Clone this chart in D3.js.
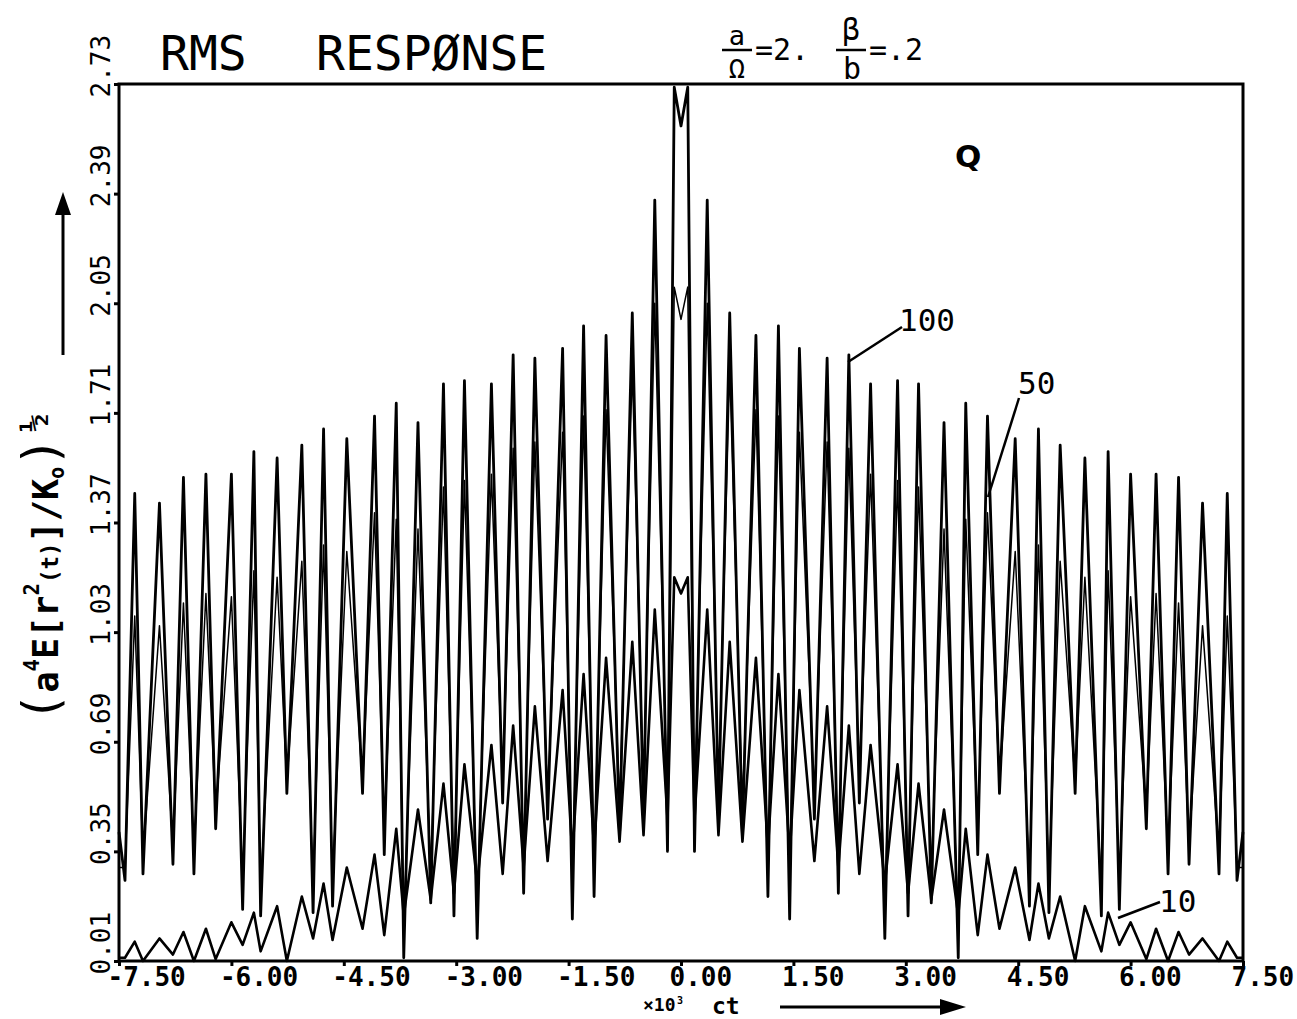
<!DOCTYPE html>
<html lang="en">
<head>
    <meta charset="UTF-8">
    <title>RMS response</title>
    <script src="https://d3js.org/d3.v7.min.js"></script>
    <style>
        body { margin: 0; background: #fff; }
        svg { display: block; }
        text { font-family: 'DejaVu Sans Mono', monospace; fill: #000; }
        .xaxis text { font-size: 26px; font-weight: bold; }
        .yaxis text { font-size: 26px; }
        .tick line { stroke: #000; stroke-width: 3; }
    </style>
</head>
<body>
<script>

    const width  = 1297;
    const height = 1019;

    // ct (x10^3) grid: peaks and troughs of the plotted curves
    const ct = [
        -7.50, -7.42, -7.29, -7.18, -6.96, -6.78, -6.64, -6.50, -6.34, -6.21,
        -6.00, -5.85, -5.70, -5.61, -5.39, -5.26, -5.06, -4.91, -4.77, -4.65,
        -4.46, -4.25, -4.09, -3.96, -3.80, -3.70, -3.51, -3.34, -3.17, -3.03,
        -2.89, -2.72, -2.53, -2.38, -2.24, -2.10, -1.95, -1.78, -1.58, -1.45,
        -1.30, -1.16, -1.00, -0.82, -0.65, -0.50, -0.35, -0.18, -0.09,
        0.00,
        0.09, 0.18, 0.35, 0.50, 0.65, 0.82, 1.00, 1.16, 1.30, 1.45,
        1.58, 1.78, 1.95, 2.10, 2.24, 2.38, 2.53, 2.72, 2.89, 3.03,
        3.17, 3.34, 3.51, 3.70, 3.80, 3.96, 4.09, 4.25, 4.46, 4.65,
        4.77, 4.91, 5.06, 5.26, 5.39, 5.61, 5.70, 5.85, 6.00, 6.21,
        6.34, 6.50, 6.64, 6.78, 6.96, 7.18, 7.29, 7.42, 7.50
    ];

    const rms100 = [
        0.41, 0.26, 1.46, 0.28, 1.43, 0.31, 1.51, 0.28, 1.52, 0.42,
        1.52, 0.17, 1.59, 0.15, 1.57, 0.53, 1.61, 0.16, 1.66, 0.18,
        1.63, 0.53, 1.70, 0.34, 1.74, 0.02, 1.68, 0.19, 1.80, 0.15,
        1.81, 0.08, 1.80, 0.50, 1.89, 0.22, 1.88, 0.45, 1.91, 0.14,
        1.98, 0.21, 1.95, 0.40, 2.02, 0.45, 2.37, 0.35, 2.72,
        2.60,
        2.72, 0.35, 2.37, 0.45, 2.02, 0.40, 1.95, 0.21, 1.98, 0.14,
        1.91, 0.45, 1.88, 0.22, 1.89, 0.50, 1.80, 0.08, 1.81, 0.15,
        1.80, 0.19, 1.68, 0.02, 1.74, 0.34, 1.70, 0.53, 1.63, 0.18,
        1.66, 0.16, 1.61, 0.53, 1.57, 0.15, 1.59, 0.17, 1.52, 0.42,
        1.52, 0.28, 1.51, 0.31, 1.43, 0.28, 1.46, 0.26, 0.41
    ];

    const rms50 = [
        0.30, 0.30, 1.08, 0.33, 1.05, 0.36, 1.12, 0.34, 1.15, 0.46,
        1.14, 0.26, 1.22, 0.24, 1.20, 0.56, 1.25, 0.24, 1.30, 0.26,
        1.28, 0.56, 1.40, 0.40, 1.38, 0.12, 1.35, 0.28, 1.48, 0.24,
        1.50, 0.18, 1.52, 0.55, 1.60, 0.30, 1.62, 0.50, 1.65, 0.24,
        1.70, 0.30, 1.72, 0.48, 1.85, 0.52, 2.05, 0.45, 2.10,
        2.00,
        2.10, 0.45, 2.05, 0.52, 1.85, 0.48, 1.72, 0.30, 1.70, 0.24,
        1.65, 0.50, 1.62, 0.30, 1.60, 0.55, 1.52, 0.18, 1.50, 0.24,
        1.48, 0.28, 1.35, 0.12, 1.38, 0.40, 1.40, 0.56, 1.28, 0.26,
        1.30, 0.24, 1.25, 0.56, 1.20, 0.24, 1.22, 0.26, 1.14, 0.46,
        1.15, 0.34, 1.12, 0.36, 1.05, 0.33, 1.08, 0.30, 0.30
    ];

    const rms10 = [
        0.02, 0.02, 0.07, 0.01, 0.08, 0.03, 0.10, 0.01, 0.11, 0.016,
        0.13, 0.06, 0.16, 0.04, 0.18, 0.01, 0.21, 0.08, 0.25, 0.075,
        0.30, 0.11, 0.34, 0.09, 0.42, 0.15, 0.48, 0.20, 0.56, 0.22,
        0.62, 0.25, 0.68, 0.28, 0.74, 0.30, 0.80, 0.32, 0.85, 0.34,
        0.90, 0.36, 0.95, 0.38, 1.00, 0.40, 1.10, 0.45, 1.20,
        1.15,
        1.20, 0.45, 1.10, 0.40, 1.00, 0.38, 0.95, 0.36, 0.90, 0.34,
        0.85, 0.32, 0.80, 0.30, 0.74, 0.28, 0.68, 0.25, 0.62, 0.22,
        0.56, 0.20, 0.48, 0.15, 0.42, 0.09, 0.34, 0.11, 0.30, 0.075,
        0.25, 0.08, 0.21, 0.01, 0.18, 0.04, 0.16, 0.06, 0.13, 0.016,
        0.11, 0.01, 0.10, 0.03, 0.08, 0.01, 0.07, 0.02, 0.02
    ];

    const xTicks = [-7.5, -6, -4.5, -3, -1.5, 0, 1.5, 3, 4.5, 6, 7.5];
    const xTickLabels = ["-7.50", "-6.00", "-4.50", "-3.00", "-1.50", "0.00",
                         "1.50", "3.00", "4.50", "6.00", "7.50"];
    const yTicks = [0.01, 0.35, 0.69, 1.03, 1.37, 1.71, 2.05, 2.39, 2.73];
    const yTickLabels = ["0.01", "0.35", "0.69", "1.03", "1.37", "1.71", "2.05", "2.39", "2.73"];

    const pLeft = 119, pRight = 1243, pTop = 84, pBottom = 961;

    const x = d3.scaleLinear().domain([-7.5, 7.5]).range([pLeft, pRight]);
    const y = d3.scaleLinear().domain([0.01, 2.73]).range([pBottom, pTop]);

    const svg = d3.select("body")
            .append("svg")
            .attr("width", width)
            .attr("height", height);

    svg.append("rect").attr("width", width).attr("height", height).attr("fill", "#fff");

    // curves
    const line = d3.line()
            .x(d => x(d[0]))
            .y(d => y(d[1]));

    const series = [
        {vals: rms10,  w: 2.6},
        {vals: rms50,  w: 1.5},
        {vals: rms100, w: 2.8}
    ];
    series.forEach(s => {
        svg.append("path")
                .datum(ct.map((c, i) => [c, s.vals[i]]))
                .attr("d", line)
                .attr("fill", "none")
                .attr("stroke", "#000")
                .attr("stroke-width", s.w)
                .attr("stroke-linejoin", "round");
    });

    // axes
    const xAxis = d3.axisBottom(x)
            .tickValues(xTicks)
            .tickFormat((d, i) => xTickLabels[i])
            .tickSizeInner(5)
            .tickSizeOuter(0);
    const gx = svg.append("g")
            .attr("class", "xaxis")
            .attr("transform", "translate(0," + pBottom + ")")
            .call(xAxis);
    gx.select(".domain").remove();
    gx.selectAll(".tick text")
            .attr("text-anchor", "start")
            .attr("x", -12)
            .attr("y", 25)
            .attr("dy", null);

    const yAxis = d3.axisLeft(y)
            .tickValues(yTicks)
            .tickFormat((d, i) => yTickLabels[i])
            .tickSizeInner(5)
            .tickSizeOuter(0);
    const gy = svg.append("g")
            .attr("class", "yaxis")
            .attr("transform", "translate(" + pLeft + ",0)")
            .call(yAxis);
    gy.select(".domain").remove();
    gy.selectAll(".tick text")
            .attr("text-anchor", "start")
            .attr("x", null)
            .attr("dy", null)
            .attr("transform", "translate(-9,13) rotate(-90)");

    // frame
    svg.append("rect")
            .attr("x", pLeft).attr("y", pTop)
            .attr("width", pRight - pLeft).attr("height", pBottom - pTop)
            .attr("fill", "none")
            .attr("stroke", "#000")
            .attr("stroke-width", 3);

    // title
    svg.append("text").attr("x", 160).attr("y", 70)
            .style("font-size", "48px").text("RMS");
    svg.append("text").attr("x", 316).attr("y", 70)
            .style("font-size", "48px").text("RESPØNSE");

    // parameters a/Ω = 2.  β/b = .2
    const par = svg.append("g").style("font-family", "'DejaVu Sans', sans-serif");
    par.append("text").attr("x", 737).attr("y", 45).attr("text-anchor", "middle")
            .style("font-size", "27px").text("a");
    par.append("line").attr("x1", 722).attr("x2", 752).attr("y1", 50).attr("y2", 50)
            .attr("stroke", "#000").attr("stroke-width", 2.5);
    par.append("text").attr("x", 737).attr("y", 78).attr("text-anchor", "middle")
            .style("font-size", "27px").text("Ω");
    par.append("text").attr("x", 755).attr("y", 60)
            .style("font-size", "30px").text("=2.");
    par.append("text").attr("x", 851).attr("y", 40).attr("text-anchor", "middle")
            .style("font-size", "30px").text("β");
    par.append("line").attr("x1", 836).attr("x2", 866).attr("y1", 50).attr("y2", 50)
            .attr("stroke", "#000").attr("stroke-width", 2.5);
    par.append("text").attr("x", 852).attr("y", 79).attr("text-anchor", "middle")
            .style("font-size", "30px").text("b");
    par.append("text").attr("x", 869).attr("y", 60)
            .style("font-size", "30px").text("=.2");

    // y axis title, stretched along its run to the reference length
    const yt = svg.append("g")
            .attr("transform", "translate(58,722) rotate(-90)")
            .style("font-family", "'DejaVu Sans', sans-serif")
            .style("font-weight", "bold");
    const ytt = yt.append("text").style("font-size", "36px");
    ytt.append("tspan").style("font-size", "50px").style("font-weight", "normal").text("(");
    ytt.append("tspan").text("a");
    ytt.append("tspan").style("font-size", "21px").attr("dy", -19).text("4");
    ytt.append("tspan").attr("dy", 19).text("E[r");
    ytt.append("tspan").style("font-size", "21px").attr("dy", -19).text("2");
    ytt.append("tspan").style("font-size", "23px").attr("dy", 19).text("(t)");
    ytt.append("tspan").text("]/K");
    ytt.append("tspan").style("font-size", "21px").attr("dy", 6).text("o");
    ytt.append("tspan").style("font-size", "50px").style("font-weight", "normal").attr("dy", -6).text(")");
    const runLen = ytt.node().getComputedTextLength();
    ytt.attr("transform", "scale(" + (285 / runLen) + ",1)");
    yt.append("text").attr("x", 290).attr("y", -14)
            .style("font-size", "30px").text("½");

    svg.append("line").attr("x1", 63).attr("x2", 63).attr("y1", 355).attr("y2", 210)
            .attr("stroke", "#000").attr("stroke-width", 3);
    svg.append("polygon").attr("points", "63,192 55,215 71,215").attr("fill", "#000");

    // x axis title
    svg.append("text").attr("x", 643).attr("y", 1011)
            .style("font-size", "18px").style("font-weight", "bold").text("×10");
    svg.append("text").attr("x", 677).attr("y", 1004)
            .style("font-size", "10px").style("font-weight", "bold").text("3");
    svg.append("text").attr("x", 712).attr("y", 1013.5)
            .style("font-size", "23px").style("font-weight", "bold").text("ct");
    svg.append("line").attr("x1", 780).attr("x2", 945).attr("y1", 1007).attr("y2", 1007)
            .attr("stroke", "#000").attr("stroke-width", 3);
    svg.append("polygon").attr("points", "966,1007 940,999 940,1015").attr("fill", "#000");

    // curve labels
    const lab = svg.append("g").style("font-family", "'Liberation Sans', sans-serif");
    lab.append("text").attr("x", 899).attr("y", 331).style("font-size", "31px").text("100");
    lab.append("line").attr("x1", 848).attr("y1", 362).attr("x2", 902).attr("y2", 327)
            .attr("stroke", "#000").attr("stroke-width", 2.5);
    lab.append("text").attr("x", 1018).attr("y", 394).style("font-size", "31px").text("50");
    lab.append("line").attr("x1", 988).attr("y1", 497).attr("x2", 1019).attr("y2", 398)
            .attr("stroke", "#000").attr("stroke-width", 2.5);
    lab.append("text").attr("x", 1159).attr("y", 912).style("font-size", "31px").text("10");
    lab.append("line").attr("x1", 1118).attr("y1", 918).attr("x2", 1160).attr("y2", 902)
            .attr("stroke", "#000").attr("stroke-width", 2.5);
    svg.append("text").attr("x", 955).attr("y", 167)
            .style("font-family", "'DejaVu Sans', sans-serif")
            .style("font-size", "31px").style("font-weight", "bold").text("Q");

</script>
</body>
</html>
